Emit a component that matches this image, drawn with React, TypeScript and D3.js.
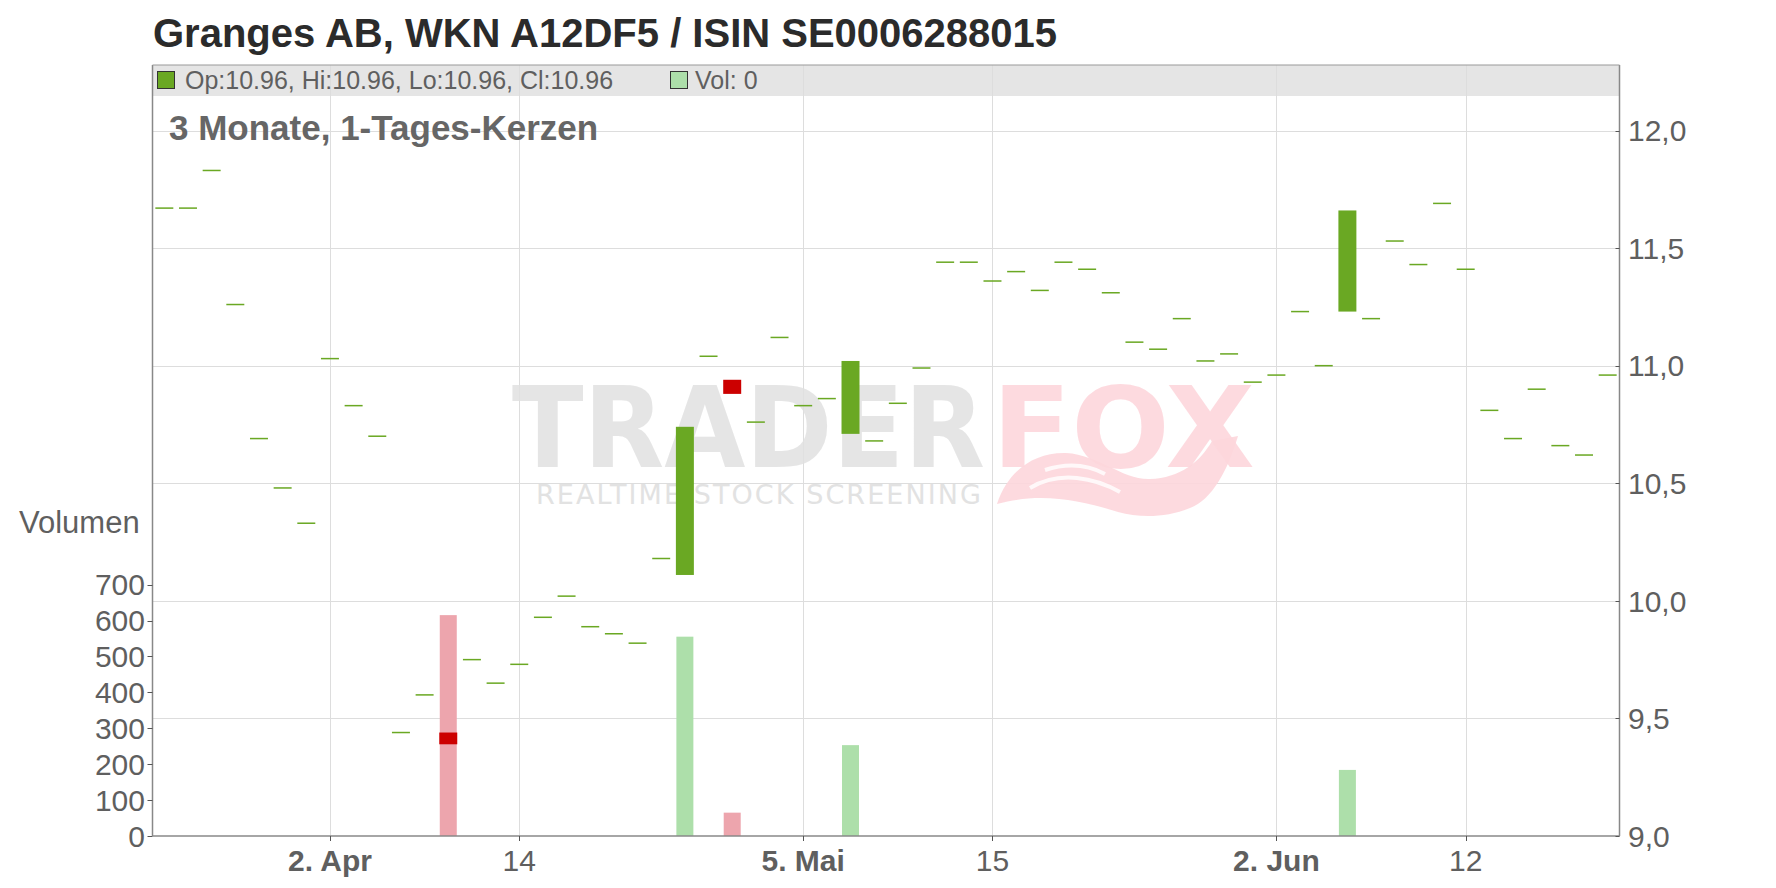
import React from 'react';
import * as d3 from 'd3';

// trading days shown (XETRA calendar)
const days = [
  '2025-03-24', '2025-03-25', '2025-03-26', '2025-03-27', '2025-03-28', '2025-03-31',
  '2025-04-01', '2025-04-02', '2025-04-03', '2025-04-04', '2025-04-07', '2025-04-08',
  '2025-04-09', '2025-04-10', '2025-04-11', '2025-04-14', '2025-04-15', '2025-04-16',
  '2025-04-17', '2025-04-22', '2025-04-23', '2025-04-24', '2025-04-25', '2025-04-28',
  '2025-04-29', '2025-04-30', '2025-05-02', '2025-05-05', '2025-05-06', '2025-05-07',
  '2025-05-08', '2025-05-09', '2025-05-12', '2025-05-13', '2025-05-14', '2025-05-15',
  '2025-05-16', '2025-05-19', '2025-05-20', '2025-05-21', '2025-05-22', '2025-05-23',
  '2025-05-26', '2025-05-27', '2025-05-28', '2025-05-29', '2025-05-30', '2025-06-02',
  '2025-06-03', '2025-06-04', '2025-06-05', '2025-06-06', '2025-06-09', '2025-06-10',
  '2025-06-11', '2025-06-12', '2025-06-13', '2025-06-16', '2025-06-17', '2025-06-18',
  '2025-06-19', '2025-06-20',
];

const openPrices = [
  11.67, 11.67, 11.83, 11.26, 10.69, 10.48, 10.33, 11.03, 10.83, 10.70, 9.44, 9.60,
  9.44, 9.75, 9.65, 9.73, 9.93, 10.02, 9.89, 9.86, 9.82, 10.18, 10.11, 11.04,
  10.94, 10.76, 11.12, 10.83, 10.86, 10.71, 10.68, 10.84, 10.99, 11.44, 11.44, 11.36,
  11.40, 11.32, 11.44, 11.41, 11.31, 11.10, 11.07, 11.20, 11.02, 11.05, 10.93, 10.96,
  11.23, 11.00, 11.23, 11.20, 11.53, 11.43, 11.69, 11.41, 10.81, 10.69, 10.90, 10.66,
  10.62, 10.96,
];

const closePrices = [
  11.67, 11.67, 11.83, 11.26, 10.69, 10.48, 10.33, 11.03, 10.83, 10.70, 9.44, 9.60,
  9.39, 9.75, 9.65, 9.73, 9.93, 10.02, 9.89, 9.86, 9.82, 10.18, 10.74, 11.04,
  10.88, 10.76, 11.12, 10.83, 10.86, 11.02, 10.68, 10.84, 10.99, 11.44, 11.44, 11.36,
  11.40, 11.32, 11.44, 11.41, 11.31, 11.10, 11.07, 11.20, 11.02, 11.05, 10.93, 10.96,
  11.23, 11.00, 11.66, 11.20, 11.53, 11.43, 11.69, 11.41, 10.81, 10.69, 10.90, 10.66,
  10.62, 10.96,
];

const volumes = [
  0, 0, 0, 0, 0, 0, 0, 0, 0, 0, 0, 0,
  615, 0, 0, 0, 0, 0, 0, 0, 0, 0, 555, 0,
  65, 0, 0, 0, 0, 253, 0, 0, 0, 0, 0, 0,
  0, 0, 0, 0, 0, 0, 0, 0, 0, 0, 0, 0,
  0, 0, 184, 0, 0, 0, 0, 0, 0, 0, 0, 0,
  0, 0,
];

const priceTicks = [9, 9.5, 10, 10.5, 11, 11.5, 12];
const volumeTicks = [0, 100, 200, 300, 400, 500, 600, 700];
const dateTicks = ['2025-04-02', '2025-04-14', '2025-05-05', '2025-05-15', '2025-06-02', '2025-06-12'];
const dateTickLabels = ['2. Apr', '14', '5. Mai', '15', '2. Jun', '12'];
const dateTickBold = [true, false, true, false, true, false];

const FONT = '"Liberation Sans", Arial, sans-serif';
const UP = '#6aa823';
const DOWN = '#cc0000';
const VOL_UP = '#addfaa';
const VOL_DOWN = '#eda5ad';
const GRID = '#dddddd';
const TEXT = '#5f5f5f';

const App = () => {
  const width = 1776;
  const height = 888;
  const left = 152.5;
  const right = 1619.5;
  const top = 65;
  const bottom = 836;

  const x = d3.scaleBand<string>()
    .domain(days)
    .range([left, right])
    .paddingInner(0.24)
    .paddingOuter(0.12);
  const cx = (d: string) => (x(d) as number) + x.bandwidth() / 2;

  const y = d3.scaleLinear().domain([9, 12]).range([bottom, 130.5]);
  const yVol = d3.scaleLinear().domain([0, 700]).range([bottom, 584.6]);

  const fmtPrice = (v: number) => d3.format('.1f')(v).replace('.', ',');
  const crisp = (v: number) => Math.round(v) + 0.5;

  return (
    <div style={{ position: 'fixed', left: 0, top: 0, width, height, background: '#fff' }}>
      <svg width={width} height={height} style={{ display: 'block' }} fontFamily={FONT}>
        <rect x={0} y={0} width={width} height={height} fill="#fff" />

        {/* title */}
        <text x={153} y={47} fontSize={40} fontWeight="bold" fill="#2b2b2b">
          Granges AB, WKN A12DF5 / ISIN SE0006288015
        </text>

        {/* legend band */}
        <rect x={left} y={top} width={right - left} height={31} fill="#e5e5e5" />

        {/* grid */}
        {priceTicks.filter(t => t > 9).map(t => (
          <line key={'gy' + t} x1={left} x2={right} y1={crisp(y(t))} y2={crisp(y(t))} stroke={GRID} strokeWidth={1} />
        ))}
        {dateTicks.map(d => (
          <line key={'gx' + d} x1={crisp(cx(d))} x2={crisp(cx(d))} y1={top} y2={bottom} stroke={GRID} strokeWidth={1} />
        ))}

        {/* watermark */}
        <g>
          <path d="M997,504 C1008,470 1035,452 1066,453 C1100,455 1122,480 1150,479 C1180,478 1200,462 1212,441
                   L1238,436 C1228,470 1212,500 1190,508 C1165,518 1140,518 1118,512 C1080,500 1040,492 997,504 Z"
            fill="#fdd6dc" fillOpacity={0.9} />
          <path d="M1030,488 C1060,470 1095,478 1120,492 M1045,470 C1070,462 1090,466 1105,474"
            fill="none" stroke="#fff" strokeWidth={4} strokeOpacity={0.8} />
          <g transform="translate(0,467) scale(1,1.1) translate(0,-467)">
            <text x={512} y={467} fontSize={102} fontWeight="bold" fontFamily='"DejaVu Sans", sans-serif'
              fill="#e0e0e0" fillOpacity={0.85} textLength={473} lengthAdjust="spacingAndGlyphs">TRADER</text>
            <text x={992} y={467} fontSize={102} fontWeight="bold" fontFamily='"DejaVu Sans", sans-serif'
              fill="#fdd6dc" fillOpacity={0.9} textLength={263} lengthAdjust="spacingAndGlyphs">FOX</text>
          </g>
          <text x={536} y={504} fontSize={27} fontFamily='"DejaVu Sans", sans-serif' fill="#e2e2e2"
            textLength={445} lengthAdjust="spacing">REALTIME STOCK SCREENING</text>
        </g>

        {/* volume bars */}
        {days.map((d, i) => volumes[i] > 0 ? (
          <rect key={'v' + d} x={cx(d) - 8.5} width={17} y={yVol(volumes[i])} height={bottom - yVol(volumes[i])}
            fill={closePrices[i] >= openPrices[i] ? VOL_UP : VOL_DOWN} />
        ) : null)}

        {/* candles */}
        {days.map((d, i) => {
          const o = openPrices[i];
          const c = closePrices[i];
          const y0 = y(Math.max(o, c));
          const y1 = y(Math.min(o, c));
          const h = Math.max(y1 - y0, 1.5);
          return (
            <rect key={'c' + d} x={x(d)} width={x.bandwidth()} y={o === c ? y0 - 0.75 : y0} height={h}
              fill={c >= o ? UP : DOWN} />
          );
        })}

        {/* axes */}
        <line x1={left} x2={left} y1={top} y2={bottom} stroke="#888" strokeWidth={1.5} />
        <line x1={right} x2={right} y1={top} y2={bottom} stroke="#888" strokeWidth={1.5} />
        <line x1={left} x2={right} y1={bottom} y2={bottom} stroke="#888" strokeWidth={1.5} />
        <line x1={left} x2={right} y1={top} y2={top} stroke="#999" strokeWidth={1} />

        {/* legend */}
        <rect x={157.5} y={71.5} width={17} height={17} fill={UP} stroke="#333" strokeWidth={1} />
        <text x={185} y={89} fontSize={25} fill={TEXT}>Op:10.96, Hi:10.96, Lo:10.96, Cl:10.96</text>
        <rect x={670.5} y={71.5} width={17} height={17} fill={VOL_UP} stroke="#333" strokeWidth={1} />
        <text x={695} y={89} fontSize={25} fill={TEXT}>Vol: 0</text>

        {/* subtitle */}
        <text x={169} y={140} fontSize={35} fontWeight="bold" fill="#666">3 Monate, 1-Tages-Kerzen</text>

        {/* right price axis */}
        {priceTicks.map(t => (
          <g key={'pt' + t}>
            <line x1={right - 4} x2={right} y1={crisp(y(t))} y2={crisp(y(t))} stroke="#555" />
            <text x={1628} y={y(t)} dy="0.36em" fontSize={30} fill={TEXT}>{fmtPrice(t)}</text>
          </g>
        ))}

        {/* left volume axis */}
        <text x={19} y={533} fontSize={31} fill={TEXT}>Volumen</text>
        {volumeTicks.map(t => (
          <g key={'vt' + t}>
            <line x1={left - 5} x2={left} y1={crisp(yVol(t))} y2={crisp(yVol(t))} stroke="#555" />
            <text x={145} y={yVol(t)} dy="0.36em" fontSize={30} fill={TEXT} textAnchor="end">{t}</text>
          </g>
        ))}

        {/* date axis */}
        {dateTicks.map((d, i) => (
          <g key={'dt' + d}>
            <line x1={crisp(cx(d))} x2={crisp(cx(d))} y1={bottom} y2={bottom + 5} stroke="#555" />
            <text x={cx(d)} y={871} fontSize={30} fill={TEXT} textAnchor="middle"
              fontWeight={dateTickBold[i] ? 'bold' : 'normal'}>{dateTickLabels[i]}</text>
          </g>
        ))}
      </svg>
    </div>
  );
};

export default App;
